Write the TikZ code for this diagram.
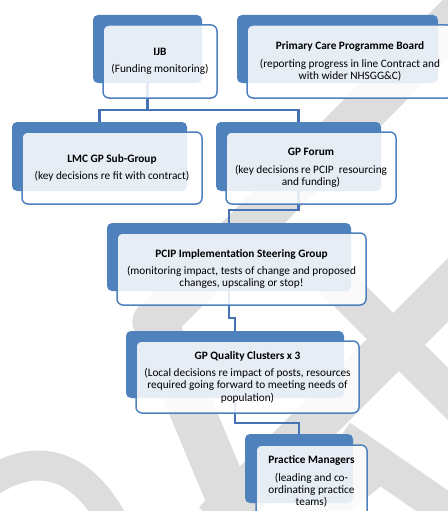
\documentclass[tikz,border=0pt]{standalone}
\usepackage{fontspec}
\setmainfont{Carlito}
\definecolor{boxblue}{RGB}{79,129,189}
\definecolor{connblue}{RGB}{68,114,178}
\definecolor{wmgray}{RGB}{221,221,221}
\begin{document}
\begin{tikzpicture}[x=1pt,y=-1pt,
  back/.style={fill=boxblue, draw=none, rounded corners=5pt, inner sep=0pt},
  front/.style={fill=white, fill opacity=0.86, text opacity=1, draw=boxblue, line width=1.5pt,
    rounded corners=6pt, inner sep=0pt, align=center, font=\fontsize{11.3}{12.3}\selectfont},
  conn/.style={draw=connblue, line width=2.2pt},
  wm/.style={draw=wmgray, line cap=butt, line join=round}]
\useasboundingbox (0,0) rectangle (447,511);
% watermark
\draw[wm, line width=45pt] (494,-20) -- (155,322) -- (242,530);
\draw[wm, line width=45pt] (490,248) -- (215,523);
\draw[wm, line width=37pt] (290,236) -- (480,426);
\draw[wm, line width=35pt] (340,437) -- (480,534);
\draw[wm, line width=35pt] (390,456) -- (300,530);
\draw[wm, line width=30pt] (-10,482) .. controls (35,452) and (80,462) .. (112,520);
% back boxes
\node[back, minimum width=109pt, minimum height=68pt] (ijbB) at (147.5,49) {};
\node[back, minimum width=201pt, minimum height=68pt] (pcpbB) at (337.5,49) {};
\node[back, minimum width=175pt, minimum height=69pt] (lmcB) at (99.5,156.5) {};
\node[back, minimum width=165pt, minimum height=69pt] (gpfB) at (298.5,156.5) {};
\node[back, minimum width=244pt, minimum height=68pt] (pcipB) at (229,257) {};
\node[back, minimum width=218pt, minimum height=67pt] (gpqB) at (235,364.5) {};
\node[back, minimum width=108pt, minimum height=69pt] (pmB) at (299,468.5) {};
% connectors
\draw[conn] (ijbB.south) -- ++(0,27) -| (lmcB.north);
\draw[conn] (ijbB.south) -- ++(0,27) -| (gpfB.north);
\draw[conn] (gpfB.south) -- ++(0,19) -| (pcipB.north);
\draw[conn] (pcipB.south) -- ++(0,27) -| (gpqB.north);
\draw[conn] (gpqB.south) -- ++(0,25) -| (pmB.north);
% front boxes
\node[front, minimum width=114pt, minimum height=73pt] (ijb) at (160,61.5)
  {\textbf{IJB}\\[5pt](Funding monitoring)};
\node[front, minimum width=206pt, minimum height=73pt] (pcpb) at (350,61.5)
  {\textbf{Primary Care Programme Board}\\[5pt](reporting progress in line Contract and\\with wider NHSGG\&C)};
\node[front, minimum width=180pt, minimum height=72pt] (lmc) at (112,168)
  {\textbf{LMC GP Sub-Group}\\[5pt](key decisions re fit with contract)};
\node[front, minimum width=170pt, minimum height=72pt] (gpf) at (311,168)
  {\textbf{GP Forum}\\[5pt](key decisions re PCIP~ resourcing\\and funding)};
\node[front, minimum width=249pt, minimum height=72pt] (pcip) at (241.5,269)
  {\textbf{PCIP Implementation Steering Group}\\[5pt](monitoring impact, tests of change and proposed\\changes, upscaling or stop!};
\node[front, minimum width=223pt, minimum height=72pt] (gpq) at (247.5,377)
  {\textbf{GP Quality Clusters x 3}\\[5pt](Local decisions re impact of posts, resources\\required going forward to meeting needs of\\population)};
\node[front, minimum width=111pt, minimum height=73pt] (pm) at (311.5,481.5)
  {\textbf{Practice Managers}\\[5pt](leading and co-\\ordinating practice\\teams)};
\end{tikzpicture}
\end{document}
